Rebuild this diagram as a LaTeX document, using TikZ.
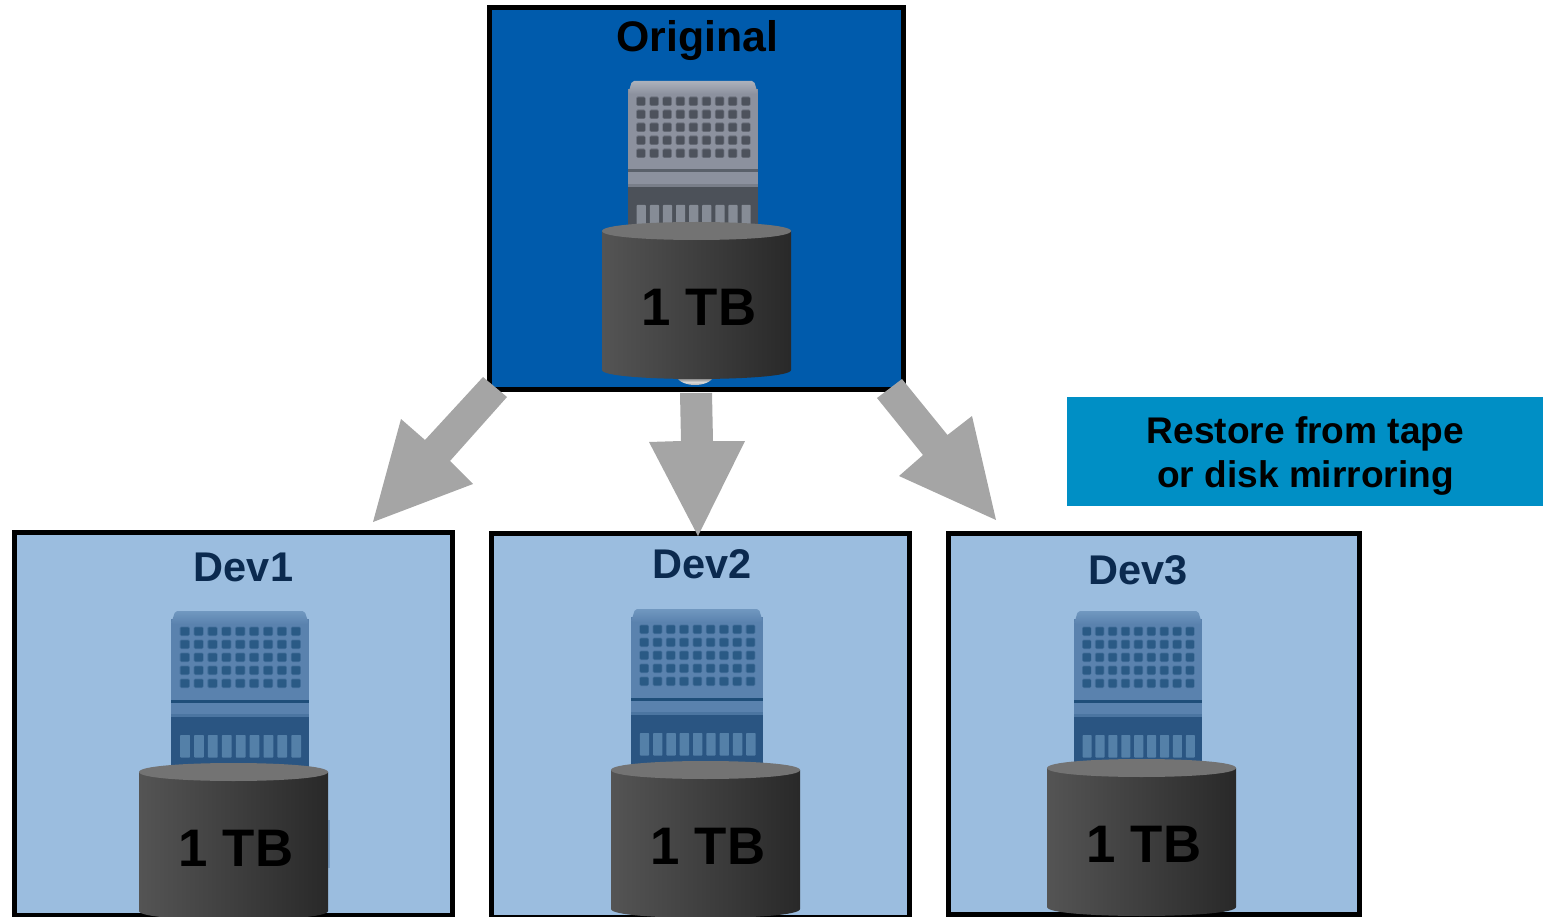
\documentclass[tikz,border=0pt]{standalone}
\usepackage{fontspec}
\setmainfont{Liberation Sans}
\definecolor{origblue}{HTML}{005BAC}
\definecolor{devblue}{HTML}{9BBDDF}
\definecolor{tealbox}{HTML}{008FC5}
\definecolor{arrowgray}{HTML}{A5A5A5}
\definecolor{devtitle}{HTML}{0B2A4F}
\definecolor{gTop}{HTML}{ACB1BB}\definecolor{gFace}{HTML}{8C919E}\definecolor{gLine}{HTML}{5A606A}\definecolor{gDark}{HTML}{4C5159}\definecolor{gBar}{HTML}{868C96}\definecolor{gWin}{HTML}{4D525C}
\definecolor{bTop}{HTML}{7198C0}\definecolor{bFace}{HTML}{5A82AE}\definecolor{bLine}{HTML}{1F4E79}\definecolor{bDark}{HTML}{2A5582}\definecolor{bBar}{HTML}{5480A8}\definecolor{bWin}{HTML}{2A5A85}
\tikzset{
  panel/.style={draw=black,line width=5pt,anchor=north west,inner sep=0pt,outer sep=0pt},
  blockarrow/.style={fill=arrowgray,draw=none},
  origtitle/.style={font=\bfseries\fontsize{42.8}{46}\selectfont,text=black,inner sep=0pt},
  devlabel/.style={font=\bfseries\fontsize{41.5}{44}\selectfont,text=devtitle,inner sep=0pt},
  tblabel/.style={font=\bfseries\fontsize{52.8}{56}\selectfont,text=black,inner sep=0pt},
}
% x, y, xscale, colour prefix
\newcommand{\serverpic}[4]{%
  \begin{scope}[shift={(#1,#2)},xscale=#3]
    \fill[#4Dark] (0,100) rectangle (130,157);
    \fill[#4Face] (0,8) rectangle (130,104);
    \fill[#4Face!70!#4Dark] (0,103) rectangle (130,106);
    \path[rounded corners=2pt,top color=#4Top,bottom color=#4Face] (0,13) -- (4,0) -- (126,0) -- (130,13) -- cycle;
    \fill[#4Line] (0,88.5) rectangle (130,91.5);
    \foreach \c in {0,...,8}{
      \foreach \r in {0,...,4}{
        \fill[#4Win,opacity=.45,rounded corners=1.5pt] ({8.2+\c*13.1},{15.5+\r*13}) rectangle ++(9.5,9.5);
        \fill[#4Win,rounded corners=1pt] ({9+\c*13.1},{16.3+\r*13}) rectangle ++(8,8);
      }
      \fill[#4Bar,rounded corners=.7pt] ({8.7+\c*13.1},124) rectangle ++(9.2,22.5);
    }
  \end{scope}}
% x left, y of top centre, label name
\newcommand{\cylpic}[3]{%
  \begin{scope}[shift={(#1,#2)}]
    \path[left color=black!67,right color=black!84]
      (0,0) -- (0,139) .. controls (0,151) and (189,151) .. (189,139) -- (189,0) -- cycle;
    \fill[black!55] (0,0) .. controls (0,-12) and (189,-12) .. (189,0) .. controls (189,12) and (0,12) .. (0,0) -- cycle;
    \node[tblabel] (#3) at (97,76.2) {1 TB};
  \end{scope}}
\begin{document}
\begin{tikzpicture}[x=1pt,y=-1pt]
\useasboundingbox (0,0) rectangle (1543,917);
\begin{scope}
\clip (0,0) rectangle (1543,917);
% panels
\node[panel,fill=origblue,minimum width=414pt,minimum height=382pt] (orig) at (489.5,7.5) {};
\node[panel,fill=devblue,minimum width=438.5pt,minimum height=383.5pt] (dev1) at (14,532) {};
\node[panel,fill=devblue,minimum width=418.5pt,minimum height=384.5pt] (dev2) at (491,533) {};
\node[panel,fill=devblue,minimum width=410.2pt,minimum height=381.2pt] (dev3) at (948.8,533.5) {};
\node[anchor=north west,fill=tealbox,minimum width=476pt,minimum height=109pt,inner sep=0pt,outer sep=0pt] (note) at (1067,397) {};
\node[align=center,font=\bfseries\fontsize{37.1}{44}\selectfont,text=black,inner sep=0pt] (notetext) at (1305.5,455.7) {Restore from tape\\or disk mirroring};
% titles
\node[origtitle] (t0) at (697.5,40.5) {Original};
\node[devlabel] (t1) at (243.5,567) {Dev1};
\node[devlabel] (t2) at (702,564.2) {Dev2};
\node[devlabel] (t3) at (1138,570.2) {Dev3};
% servers
\serverpic{628}{81}{1}{g}
\serverpic{171}{611}{1.06}{b}
\serverpic{631}{609}{1.015}{b}
\serverpic{1074}{611}{0.985}{b}
% faint remnant beside the Dev1 cylinder
\fill[bFace,opacity=.5] (328,820) rectangle (330,868);
% silver foot
\path[top color=black!70,bottom color=black!45,middle color=black!15] (676,376) .. controls (681,388) and (709,388) .. (714,376) -- cycle;
% cylinders
\cylpic{602}{231}{l0}
\cylpic{139}{772}{l1}
\cylpic{611}{770}{l2}
\cylpic{1047}{768}{l3}
% block arrows
\fill[blockarrow] (483,377) -- (507,397) -- (450,461) -- (473,484) -- (373,522) -- (401,419) -- (425,440) -- cycle;
\fill[blockarrow] (680,393) -- (712,393) -- (713,441) -- (745,441) -- (698,536) -- (649,442) -- (681,441) -- cycle;
\fill[blockarrow] (902,379) -- (877,398) -- (923,455) -- (899,476) -- (996,520) -- (972,416) -- (947.5,435) -- cycle;
\end{scope}
\end{tikzpicture}
\end{document}
